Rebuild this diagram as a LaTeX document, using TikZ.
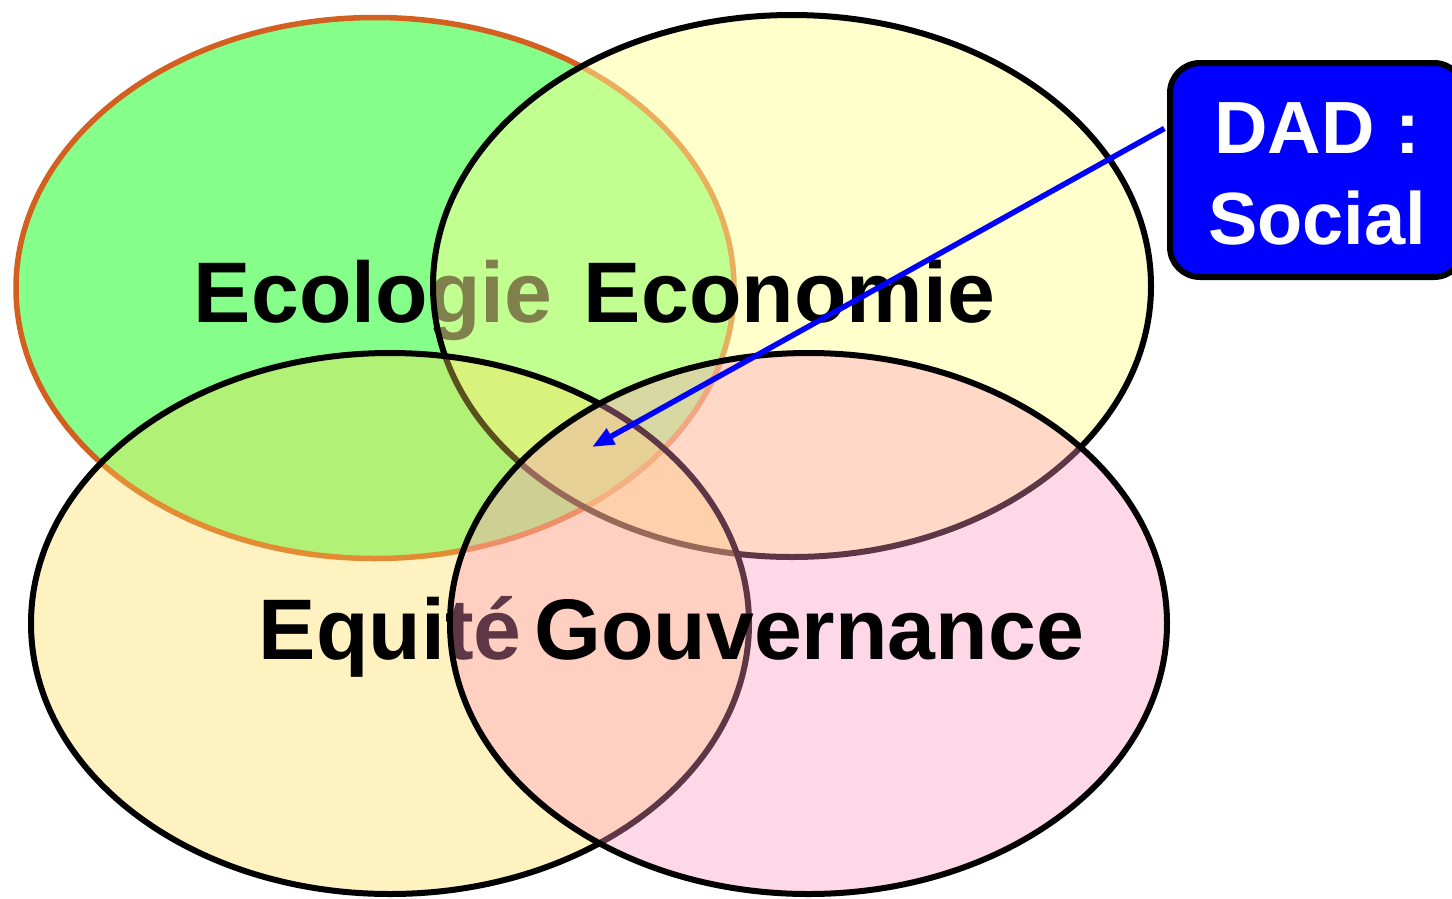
\documentclass[tikz,border=0pt]{standalone}
\usepackage{fontspec}
\setmainfont{Liberation Sans}
\usetikzlibrary{arrows.meta}
\definecolor{ecofill}{RGB}{134,255,138}
\definecolor{ecoline}{RGB}{212,96,32}
\definecolor{econfill}{RGB}{255,255,153}
\definecolor{eqfill}{RGB}{255,219,85}
\definecolor{gvfill}{RGB}{255,151,195}
\definecolor{dadblue}{RGB}{0,0,255}
\tikzset{
  venn/.style={line width=6pt, draw=black},
  biglabel/.style={inner sep=0pt, anchor=base west, font=\fontsize{86}{100}\selectfont\bfseries},
  dadbox/.style={draw=black, line width=6pt, fill=dadblue, rounded corners=30pt, minimum width=294pt, minimum height=214pt, inner sep=0pt},
  dadtxt/.style={text=white, align=center, inner sep=0pt, font=\fontsize{74}{91}\selectfont\bfseries},
  pointer/.style={draw=dadblue, line width=5.5pt, shorten <=3pt, -{Triangle[length=22pt,width=17pt]}}
}
\begin{document}
\begin{tikzpicture}[x=1pt,y=-1pt]
\useasboundingbox (0,0) rectangle (1452,898);
\clip (0,0) rectangle (1452,898);
\fill[white] (0,0) rectangle (1452,898);
\draw[venn, line width=5.5pt, draw=ecoline, fill=ecofill] (375,288) ellipse [x radius=359, y radius=270.5];
\node[biglabel] (ecologie) at (193.7,322) {Ecologie};
\draw[venn, fill=econfill, fill opacity=0.5] (792,286) ellipse [x radius=359, y radius=271];
\node[biglabel] (economie) at (583.7,322) {Economie};
\draw[venn, fill=eqfill, fill opacity=0.36] (390,623.5) ellipse [x radius=359, y radius=270.5];
\node[biglabel] (equite) at (258.7,659) {Equité};
\draw[venn, fill=gvfill, fill opacity=0.37] (808.5,623.5) ellipse [x radius=358.5, y radius=270.5];
\node[biglabel] (gouv) at (534,659) {Gouvernance};
\node[dadbox] (dad) at (1317,170) {};
\coordinate (tip) at (592,447);
\draw[pointer] (dad.164.4) -- (tip);
\node[dadtxt] (dadlabel) at (1317,174) {DAD :\\Social};
\end{tikzpicture}
\end{document}
